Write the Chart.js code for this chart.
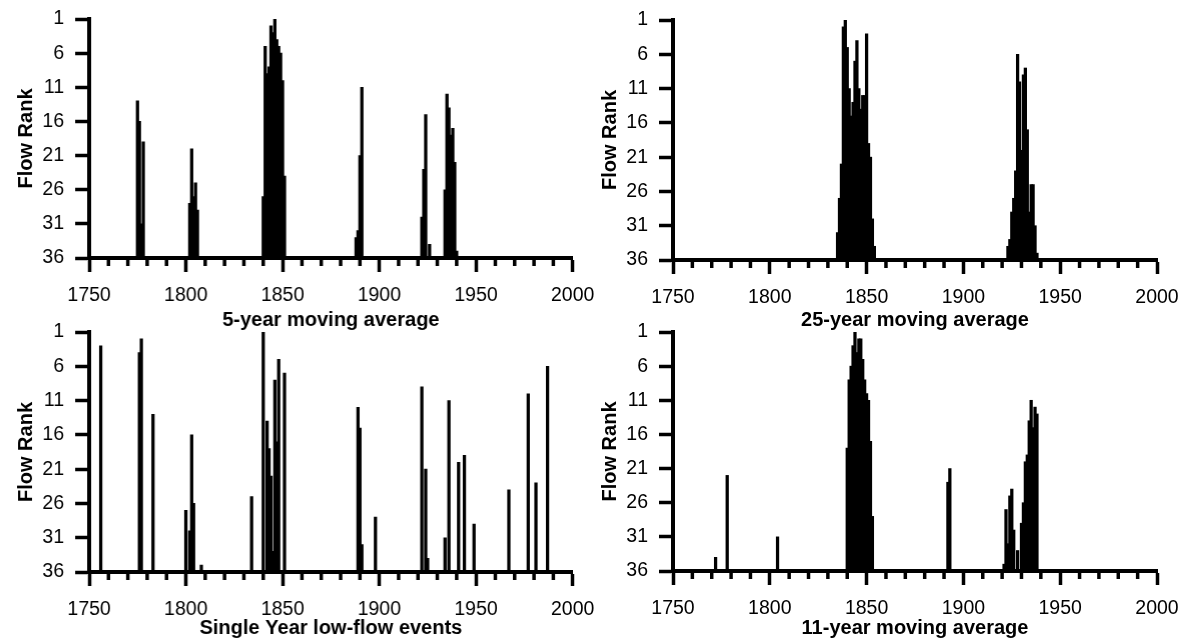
<!DOCTYPE html>
<html>
<head>
<meta charset="utf-8">
<script src="https://cdn.jsdelivr.net/npm/chart.js@4/dist/chart.umd.min.js"></script>
<style>
  html, body { margin: 0; padding: 0; background: #fff; }
  body { width: 1183px; height: 644px; position: relative; overflow: hidden; }
  .panel { position: absolute; }
</style>
</head>
<body>
<div class="panel" id="w1"><canvas id="c1"></canvas></div>
<div class="panel" id="w2"><canvas id="c2"></canvas></div>
<div class="panel" id="w3"><canvas id="c3"></canvas></div>
<div class="panel" id="w4"><canvas id="c4"></canvas></div>
<script>
// ---------------- DATA ----------------
const X_MIN = 1750, X_MAX = 2000, X_MAJOR = 50, X_MINOR = 10;
const RANK_TOP = 1, RANK_BASE = 36, RANK_STEP = 5;
const Y_TITLE = "Flow Rank";

// 5-year moving average
const years5 = [1775,1776,1777,1778, 1802,1803,1804,1805,1806,
  1840,1841,1842,1843,1844,1845,1846,1847,1848,1849,1850,1851,
  1888,1889,1890,1891, 1922,1923,1924,1926,
  1934,1935,1936,1937,1938,1939,1940];
const ranks5 = [13,16,31,19, 28,20,27,25,29,
  27,5,9,8,2,3,1,4,5,6,10,24,
  33,32,21,11, 30,23,15,34,
  26,12,14,18,17,22,35];
const title5 = "5-year moving average";

// 25-year moving average
const years25 = [1835,1836,1837,1838,1839,1840,1841,1842,1843,1844,1845,1846,1847,1848,1849,1850,1851,1852,1853,1854,
  1923,1924,1925,1926,1927,1928,1929,1930,1931,1932,1933,1934,1935,1936,1937,1938];
const ranks25 = [32,27,22,2,1,5,11,15,13,7,4,11,14,12,12,3,19,21,30,34,
  34,33,29,27,23,6,10,20,9,8,17,29,25,25,31,35];
const title25 = "25-year moving average";

// Single-year low-flow events
const years1 = [1756,1776,1777,1783,1800,1802,1803,1804,1808,1834,1840,1842,1843,1844,1845,1846,1847,1848,1851,
  1889,1890,1891,1898,1922,1924,1925,1934,1936,1941,1944,1949,1967,1977,1981,1987];
const ranks1 = [3,4,2,13,27,30,16,26,35,25,1,14,18,22,33,8,17,5,7,
  12,15,32,28,9,21,34,31,11,20,19,29,24,10,23,6];
const title1 = "Single Year low-flow events";

// 11-year moving average
const years11 = [1772,1778,1804,
  1840,1841,1842,1843,1844,1845,1846,1847,1848,1849,1850,1851,1852,1853,
  1892,1893,
  1921,1922,1923,1924,1925,1926,1928,1930,1931,1932,1933,1934,1935,1936,1937,1938];
const ranks11 = [34,22,31,
  18,8,6,3,1,4,2,2,5,8,10,11,17,28,
  23,21,
  35,27,32,25,24,30,33,29,26,20,19,14,11,15,12,13];
const title11 = "11-year moving average";

// ---------------- LAYOUT / STYLE ----------------
const FONT = "'Liberation Sans', Arial, Helvetica, sans-serif";
const Y_AXIS_W = 89, X_AXIS_H = 75, PAD_TOP = 19, PAD_RIGHT = 24;

const panels = [
  { id: 'c1', wrap: 'w1', area: {l: 89,    t: 19,    r: 571.7,  b: 258},   years: years5,  ranks: ranks5,  title: title5,  titleOff: 62 },
  { id: 'c2', wrap: 'w2', area: {l: 672.7, t: 20,    r: 1156.7, b: 260},   years: years25, ranks: ranks25, title: title25, titleOff: 60 },
  { id: 'c3', wrap: 'w3', area: {l: 89,    t: 331.7, r: 571.7,  b: 571.7}, years: years1,  ranks: ranks1,  title: title1,  titleOff: 56.5 },
  { id: 'c4', wrap: 'w4', area: {l: 672.7, t: 331.7, r: 1156.7, b: 570.7}, years: years11, ranks: ranks11, title: title11, titleOff: 57.5 }
];

const minorTicks = {
  id: 'minorTicks',
  afterDraw(chart) {
    const s = chart.scales.x, ctx = chart.ctx;
    ctx.save();
    ctx.strokeStyle = '#000';
    ctx.lineWidth = 3.5;
    for (let v = X_MIN; v <= X_MAX; v += X_MINOR) {
      if (v % X_MAJOR === 0) continue;
      const x = s.getPixelForValue(v);
      ctx.beginPath();
      ctx.moveTo(x, s.top);
      ctx.lineTo(x, s.top + 8);
      ctx.stroke();
    }
    ctx.restore();
  }
};

panels.forEach(p => {
  const a = p.area;
  const left = a.l - Y_AXIS_W, top = a.t - PAD_TOP;
  const w = (a.r + PAD_RIGHT) - left;
  const h = (a.b + X_AXIS_H) - top;
  const wrap = document.getElementById(p.wrap);
  wrap.style.left = left + 'px';
  wrap.style.top = top + 'px';
  wrap.style.width = w + 'px';
  wrap.style.height = h + 'px';

  const titleFontSize = 20;
  const titleLH = titleFontSize * 1.2;

  new Chart(document.getElementById(p.id), {
    type: 'bar',
    data: {
      datasets: [{
        data: p.years.map((yr, i) => ({ x: yr, y: [RANK_BASE, p.ranks[i]] })),
        backgroundColor: '#000',
        borderWidth: 0,
        barThickness: 2.6,
        borderSkipped: false
      }]
    },
    options: {
      responsive: true,
      maintainAspectRatio: false,
      animation: false,
      devicePixelRatio: 1,
      layout: { padding: { left: 0, top: PAD_TOP, right: PAD_RIGHT, bottom: 0 } },
      plugins: { legend: { display: false }, tooltip: { enabled: false } },
      scales: {
        x: {
          type: 'linear',
          min: X_MIN, max: X_MAX,
          offset: false,
          grid: { display: true, drawOnChartArea: false, offset: false, tickLength: 14, tickWidth: 3.5, tickColor: '#000' },
          border: { display: true, color: '#000', width: 4 },
          ticks: {
            stepSize: X_MAJOR, autoSkip: false, maxRotation: 0, padding: 12,
            color: '#000', font: { family: FONT, size: 19.5 },
            callback: v => String(v)
          },
          title: {
            display: true, text: p.title, color: '#000',
            font: { family: FONT, size: titleFontSize, weight: 'bold' },
            padding: { top: 0, bottom: X_AXIS_H - p.titleOff - titleLH / 2 }
          },
          afterFit(s) { s.height = X_AXIS_H; s.paddingLeft = 0; s.paddingRight = 0; }
        },
        y: {
          type: 'linear',
          min: RANK_TOP, max: RANK_BASE,
          reverse: true,
          beginAtZero: false,
          grid: { display: true, drawOnChartArea: false, tickLength: 14, tickWidth: 3.5, tickColor: '#000' },
          border: { display: true, color: '#000', width: 4 },
          ticks: {
            stepSize: RANK_STEP, autoSkip: false, padding: 11,
            color: '#000', font: { family: FONT, size: 19.5 }
          },
          title: {
            display: true, text: Y_TITLE, color: '#000',
            font: { family: FONT, size: titleFontSize, weight: 'bold' },
            padding: { top: 26.5 - titleLH / 2, bottom: 0 }
          },
          afterFit(s) { s.width = Y_AXIS_W; s.paddingTop = 0; s.paddingBottom = 0; }
        }
      }
    },
    plugins: [minorTicks]
  });
});
</script>
</body>
</html>
